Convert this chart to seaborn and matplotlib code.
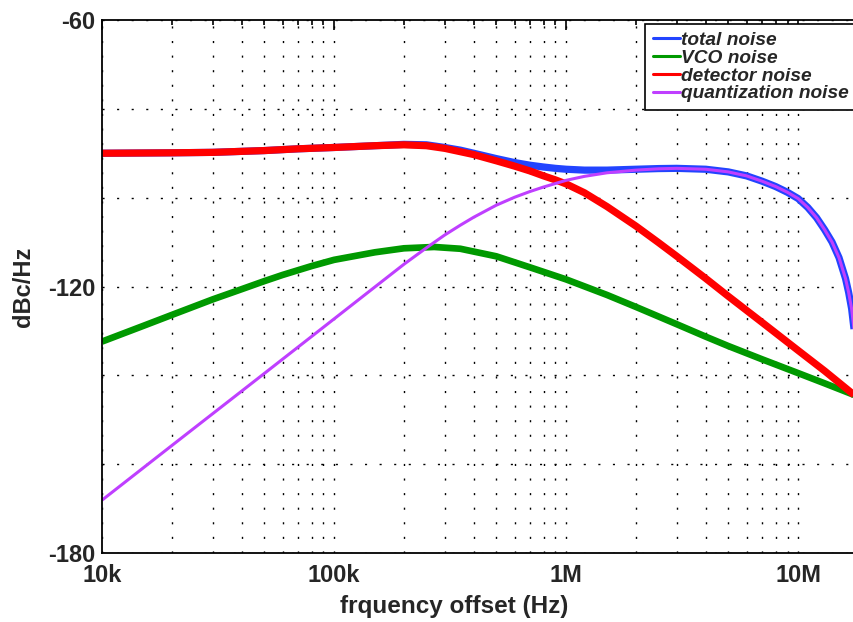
import matplotlib
matplotlib.use("Agg")
import matplotlib.pyplot as plt
import matplotlib.ticker as mticker
from matplotlib.lines import Line2D
import pandas as pd
import seaborn as sns

# ---------------- data ----------------
freq_total = [1e4, 2e4, 3e4, 5e4, 7e4, 1e5, 1.5e5, 2e5, 2.5e5, 3e5, 3.5e5, 4e5, 5e5, 6e5,
              7e5, 8e5, 9e5, 1e6, 1.2e6, 1.5e6, 2e6, 2.5e6, 3e6, 4e6, 5e6, 6e6, 7e6, 8e6,
              9e6, 1e7, 1.1e7, 1.2e7, 1.3e7, 1.4e7, 1.5e7, 1.6e7, 1.65e7, 1.7e7, 1.74e7,
              1.76e7]
total_db = [-90.0, -89.9, -89.8, -89.4, -89.0, -88.7, -88.3, -88.0, -88.1, -88.7, -89.3,
            -90.0, -91.2, -92.1, -92.7, -93.1, -93.4, -93.6, -93.8, -93.8, -93.6, -93.45,
            -93.4, -93.6, -94.2, -95.1, -96.3, -97.5, -98.8, -100.2, -102.2, -104.5,
            -107.2, -110.0, -113.5, -118.2, -121.3, -125.0, -129.5, -132.0]

freq_vco = [1e4, 1.5e4, 2e4, 3e4, 4e4, 5e4, 6e4, 8e4, 1e5, 1.5e5, 2e5, 2.7e5, 3.5e5,
            5e5, 7e5, 1e6, 1.5e6, 2e6, 3e6, 4e6, 5e6, 7e6, 1e7, 1.3e7, 1.76e7]
vco_db = [-132.4, -128.9, -126.4, -122.9, -120.6, -118.8, -117.4, -115.4, -114.0, -112.3,
          -111.4, -111.1, -111.5, -113.2, -115.7, -118.4, -121.9, -124.6, -128.5, -131.3,
          -133.4, -136.4, -139.5, -141.8, -144.5]

freq_det = [1e4, 2e4, 3e4, 5e4, 7e4, 1e5, 1.5e5, 2e5, 2.5e5, 3e5, 4e5, 5e5, 6e5, 7e5,
            8e5, 9e5, 1e6, 1.2e6, 1.5e6, 2e6, 2.5e6, 3e6, 4e6, 5e6, 7e6, 1e7, 1.3e7,
            1.76e7]
det_db = [-90.0, -89.9, -89.8, -89.4, -89.0, -88.7, -88.3, -88.1, -88.3, -88.9, -90.3,
          -91.7, -92.9, -94.0, -95.1, -96.0, -96.9, -98.9, -102.0, -106.4, -110.1,
          -113.2, -118.2, -122.2, -128.1, -134.4, -139.0, -144.6]

freq_quant = [1e4, 2e4, 5e4, 1e5, 1.5e5, 2e5, 2.5e5, 3e5, 3.5e5, 4e5, 5e5, 6e5, 7e5, 8e5,
              1e6, 1.2e6, 1.5e6, 2e6, 2.5e6, 3e6, 4e6, 5e6, 6e6, 7e6, 8e6, 9e6, 1e7,
              1.1e7, 1.2e7, 1.3e7, 1.4e7, 1.5e7, 1.6e7, 1.65e7, 1.7e7, 1.74e7, 1.76e7]
quant_db = [-168.1, -155.8, -139.6, -127.3, -120.1, -115.0, -111.3, -108.4, -106.2,
            -104.4, -101.7, -99.9, -98.6, -97.6, -96.1, -95.2, -94.4, -93.8, -93.5,
            -93.4, -93.6, -94.2, -95.1, -96.3, -97.5, -98.8, -100.2, -102.2, -104.5,
            -107.2, -110.0, -113.5, -118.2, -121.3, -125.0, -129.5, -132.0]

series_names = ["total noise", "VCO noise", "detector noise", "quantization noise"]
series_colors = ["#2244ff", "#009900", "#ff0000", "#bf3fff"]
series_widths = [5.2, 4.8, 5.2, 2.2]

x_tick_values = [1e4, 1e5, 1e6, 1e7]
x_tick_labels = ["10k", "100k", "1M", "10M"]
y_major_ticks = [-180, -120, -60]
y_minor_ticks = [-160, -140, -100, -80]

# ---------------- style ----------------
sns.set_theme(style="white")
plt.rcParams['font.family'] = ['Liberation Sans', 'DejaVu Sans']
plt.rcParams['font.weight'] = 'bold'
plt.rcParams['axes.labelweight'] = 'bold'

fig = plt.figure(figsize=(8.54, 6.22), dpi=100)
ax = fig.add_axes([102 / 854, 69 / 622, 766 / 854, 533 / 622])

frames = [
    pd.DataFrame({"f": freq_total, "db": total_db}),
    pd.DataFrame({"f": freq_vco, "db": vco_db}),
    pd.DataFrame({"f": freq_det, "db": det_db}),
    pd.DataFrame({"f": freq_quant, "db": quant_db}),
]
for df, name, col, lw in zip(frames, series_names, series_colors, series_widths):
    sns.lineplot(data=df, x="f", y="db", ax=ax, color=col, linewidth=lw,
                 estimator=None, sort=False, legend=False,
                 solid_capstyle='butt', solid_joinstyle='round')

ax.set_xscale('log')
ax.set_xlim(1e4, 2e7)
ax.set_ylim(-180, -60)

ax.xaxis.set_major_locator(mticker.FixedLocator(x_tick_values))
ax.xaxis.set_major_formatter(mticker.FixedFormatter(x_tick_labels))
ax.xaxis.set_minor_locator(mticker.LogLocator(base=10, subs=[2, 3, 4, 5, 6, 7, 8, 9]))
ax.xaxis.set_minor_formatter(mticker.NullFormatter())
ax.yaxis.set_major_locator(mticker.FixedLocator(y_major_ticks))
ax.yaxis.set_minor_locator(mticker.FixedLocator(y_minor_ticks))
ax.yaxis.set_major_formatter(mticker.FuncFormatter(lambda v, p: f"{int(v)}"))

grid_style = dict(color='black', linestyle=(0, (1.5, 9)), linewidth=1.0)
ax.grid(True, which='both', axis='both', **grid_style)
ax.set_axisbelow(True)

ax.tick_params(axis='both', which='both', direction='in', top=True, right=True,
               color='black', width=1.2)
ax.tick_params(axis='x', which='major', length=7, pad=8, labelsize=17)
ax.tick_params(axis='x', which='minor', length=3.6)
ax.tick_params(axis='y', which='major', length=7, pad=5, labelsize=17)
ax.tick_params(axis='y', which='minor', length=6)
for lab in ax.get_xticklabels() + ax.get_yticklabels():
    lab.set_fontweight('bold')

for s in ax.spines.values():
    s.set_color('black')
    s.set_linewidth(1.3)
    s.set_visible(True)

ax.set_xlabel("frquency offset (Hz)", fontsize=17.5, fontweight='bold')
ax.set_ylabel("dBc/Hz", fontsize=17, fontweight='bold')
ax.xaxis.set_label_coords(0.4595, -0.078)
ax.yaxis.set_label_coords(-0.088, 0.5)

handles = [Line2D([0], [0], color=c, linewidth=2.2) for c in series_colors]
leg = ax.legend(handles, series_names, loc='upper left',
                bbox_to_anchor=((645 - 102) / 766, 1 - 4 / 533),
                borderaxespad=0.0, fancybox=False, framealpha=1.0, edgecolor='black',
                prop={'size': 13.8, 'weight': 'bold', 'style': 'italic',
                      'family': ['Liberation Sans', 'DejaVu Sans']},
                handlelength=1.45, handletextpad=0.05, labelspacing=0.02,
                borderpad=0.4)
leg.get_frame().set_linewidth(1.2)

fig.savefig("out.png", dpi=100)
